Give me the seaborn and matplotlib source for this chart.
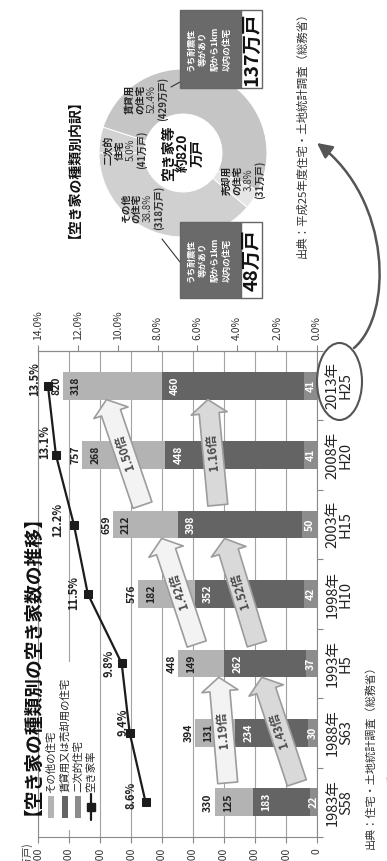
import numpy as np
import pandas as pd
import matplotlib
matplotlib.use("Agg")
import matplotlib.pyplot as plt
import seaborn as sns
from matplotlib.patches import Rectangle, Ellipse, FancyArrowPatch
from matplotlib.path import Path
from matplotlib.lines import Line2D

# ---- data ---------------------------------------------------------------
years = ["1983年", "1988年", "1993年", "1998年", "2003年", "2008年", "2013年"]
eras = ["S58", "S63", "H5", "H10", "H15", "H20", "H25"]
second_homes = [22, 30, 37, 42, 50, 41, 41]          # 二次的住宅
rental_sale = [183, 234, 262, 352, 398, 448, 460]     # 賃貸用又は売却用の住宅
other_homes = [125, 131, 149, 182, 212, 268, 318]     # その他の住宅
totals = [330, 394, 448, 576, 659, 757, 820]          # 空き家数 (万戸)
vacancy_rate = [8.6, 9.4, 9.8, 11.5, 12.2, 13.1, 13.5]  # 空き家率 (%)

value_ticks = [0, 100, 200, 300, 400, 500, 600, 700, 800, 900]
rate_ticks = [0, 2, 4, 6, 8, 10, 12, 14]

growth_labels = ["1.19倍", "1.43倍", "1.42倍", "1.52倍", "1.50倍", "1.16倍"]
growth_from = [0, 0, 2, 2, 4, 4]
growth_kind = ["other", "rental", "other", "rental", "other", "rental"]

pie_names = [["二次的", "住宅"], ["賃貸用", "の住宅"], ["売却用", "の住宅"], ["その他", "の住宅"]]
pie_pct = [5.0, 52.4, 3.8, 38.8]
pie_units = [41, 429, 31, 318]
pie_total = 820
near_station = [137, 48]

# ---- layout helpers (pixel positions on the 387x861 canvas) ---------------
W, H = 387, 861


def fxy(px, py):
    return px / W, 1 - py / H


def pt(px):
    return px * 72 / 100


C_OTHER = "#b3b3b3"
C_RENT = "#646464"
C_SECOND = "#8c8c8c"
C_LINE = "#1c1c1c"
C_GRID = "#a2a2a2"
C_TEXT = "#222222"

sns.set_style("white")
plt.rcParams["font.family"] = ["Noto Sans CJK JP", "DejaVu Sans"]

fig = plt.figure(figsize=(W / 100, H / 100), dpi=100)
fig.patch.set_facecolor("white")

# ---- stacked bars (drawn sideways: values run right -> left) --------------
ax = fig.add_axes([38 / W, 1 - 837 / H, 279 / W, 486 / H])
ax.set_axisbelow(True)
inner = [s + r for s, r in zip(second_homes, rental_sale)]
for vals, col in [(totals, C_OTHER), (inner, C_RENT), (second_homes, C_SECOND)]:
    sns.barplot(x=vals, y=years, order=years, orient="h", color=col,
                saturation=1, width=0.4, errorbar=None, edgecolor="none",
                linewidth=0, ax=ax)

ax.set_xlim(900, 0)
ax.set_ylim(-0.5, 6.5)
ax.set_xlabel("")
ax.set_ylabel("")
ax.set_xticks(value_ticks)
ax.set_xticklabels([str(v) for v in value_ticks], rotation=90)
ax.tick_params(axis="x", bottom=True, length=4, pad=4, labelsize=7.5,
               color="#888888", labelcolor="#333333", width=0.8)
ax.xaxis.grid(True, color=C_GRID, lw=0.8)
ax.yaxis.grid(False)

ax.yaxis.tick_right()
ax.set_yticks(range(len(years)))
ax.set_yticklabels([f"{y}\n{e}" for y, e in zip(years, eras)], rotation=90,
                   ha="left", va="center", multialignment="center",
                   linespacing=0.95)
ax.tick_params(axis="y", which="major", length=0, pad=6, labelsize=10.5,
               labelcolor="#222222")
ax.set_yticks(np.arange(-0.5, 7, 1), minor=True)
ax.tick_params(axis="y", which="minor", length=4, right=True, left=False,
               color="#888888", width=0.8)
for sp in ax.spines.values():
    sp.set_color("#8a8a8a")
    sp.set_linewidth(0.8)

# segment labels, placed just inside each segment's outer end
for i in range(len(years)):
    segs = [
        (second_homes[i], second_homes[i], "white"),
        (inner[i], rental_sale[i], "white"),
        (totals[i], other_homes[i], C_TEXT),
    ]
    for end, length, col in segs:
        ax.text(end - min(42, length / 2), i, str(length), rotation=90,
                ha="center", va="center", fontsize=7.5, fontweight="bold",
                color=col, zorder=5)
    ax.annotate(str(totals[i]), (totals[i], i), xytext=(pt(-6.5), 0),
                textcoords="offset points", rotation=90, ha="center",
                va="center", fontsize=7.5, fontweight="bold", color=C_TEXT,
                zorder=5)

# growth arrows between survey years
arrow_tail_val = [288, 65, 388, 194, 563, 320]
arrow_head_val = [317, 178, 501, 298, 679, 352]
for lab, a, kind, xv0, xv1 in zip(growth_labels, growth_from, growth_kind,
                                  arrow_tail_val, arrow_head_val):
    y0, y1 = a + 0.28, a + 1.8
    fc = "#f3f3f3" if kind == "other" else "#d9d9d9"
    arr = FancyArrowPatch((xv0, y0), (xv1, y1),
                          arrowstyle="simple,head_length=10,head_width=26,tail_width=14.4",
                          mutation_scale=1, shrinkA=0, shrinkB=0,
                          facecolor=fc, edgecolor="#9c9c9c", lw=1.2, zorder=4)
    ax.add_patch(arr)
    p0 = ax.transData.transform((xv0, y0))
    p1 = ax.transData.transform((xv1, y1))
    ang = np.degrees(np.arctan2(p1[1] - p0[1], p1[0] - p0[0]))
    ax.text((xv0 + xv1) / 2, (y0 + y1) / 2, lab, rotation=ang,
            rotation_mode="anchor", ha="center", va="center", fontsize=8.5,
            fontweight="bold", color="#4a4a4a", zorder=6)

# ---- vacancy rate on the twin axis -----------------------------------------
ax2 = ax.twiny()
sns.lineplot(x=vacancy_rate, y=list(range(len(years))), sort=False,
             estimator=None, ax=ax2, color=C_LINE, lw=1.6, marker="s",
             markersize=5.5, markeredgecolor=C_LINE, markerfacecolor=C_LINE)
ax2.set_xlim(14, 0)
ax.set_ylim(-0.5, 6.5)
ax2.set_xticks(rate_ticks)
ax2.set_xticklabels([f"{v:.1f}%" for v in rate_ticks], rotation=90)
ax2.tick_params(axis="x", top=True, length=4, pad=4, labelsize=7.5,
                color="#888888", labelcolor="#333333", width=0.8)
ax2.set_xlabel("")
ax2.set_ylabel("")
for name, sp in ax2.spines.items():
    sp.set_visible(name == "top")
    sp.set_color("#8a8a8a")
    sp.set_linewidth(0.8)

rate_offsets = [(-14.6, -7), (-7, -11), (-13, 0), (-14, -1), (-16, -5),
                (-11, -13), (-13, -7)]
for i, (r, (dx, dy)) in enumerate(zip(vacancy_rate, rate_offsets)):
    ax2.annotate(f"{r}%", (r, i), xytext=(pt(dx), pt(-dy)),
                 textcoords="offset points", rotation=90, ha="center",
                 va="center", fontsize=8, fontweight="bold", color=C_TEXT)

# ---- legend (sideways) -----------------------------------------------------
x0, y0 = fxy(40, 830)
x1, y1 = fxy(98, 662)
fig.add_artist(Rectangle((x0, y0), x1 - x0, y1 - y0, transform=fig.transFigure,
                         facecolor="white", edgecolor="none", zorder=1))
legend_items = [("その他の住宅", C_OTHER, 51), ("賃貸用又は売却用の住宅", C_RENT, 65),
                ("二次的住宅", C_SECOND, 78), ("空き家率", None, 91)]
for lab, col, cx in legend_items:
    if col is not None:
        bx, by = fxy(cx - 3, 818)
        fig.add_artist(Rectangle((bx, by), 6 / W, 22 / H, transform=fig.transFigure,
                                 facecolor=col, edgecolor="none", zorder=2))
    else:
        lx, ly0 = fxy(cx, 820)
        _, ly1 = fxy(cx, 794)
        fig.add_artist(Line2D([lx, lx], [ly0, ly1], transform=fig.transFigure,
                              color=C_LINE, lw=1.6, zorder=2))
        mx, my = fxy(cx, 807)
        fig.add_artist(Line2D([mx], [my], transform=fig.transFigure, marker="s",
                              markersize=5.5, color=C_LINE, zorder=3))
    tx, ty = fxy(cx, 792)
    fig.text(tx, ty, lab, rotation=90, ha="center", va="bottom", fontsize=7.5,
             color=C_TEXT, zorder=3)

# ---- titles and notes -------------------------------------------------------
tx, ty = fxy(23, 656)
fig.text(tx, ty, "【空き家の種類別の空き家数の推移】", rotation=90, ha="center",
         va="center", fontsize=13.5, fontweight="bold", color="#111111")
tx, ty = fxy(370, 754)
fig.text(tx, ty, "出典：住宅・土地統計調査（総務省）", rotation=90, ha="center",
         va="center", fontsize=8, color="#333333")
tx, ty = fxy(387, 786)
fig.text(tx, ty, "［空き家の種類］", rotation=90, ha="center", va="center",
         fontsize=6, color="#555555")
tx, ty = fxy(27, 842)
fig.text(tx, ty, "(万戸)", rotation=90, ha="center", va="top", fontsize=7.5,
         color="#333333")

# highlight of the latest survey year and link to the breakdown
ex, ey = fxy(339.5, 381.5)
fig.add_artist(Ellipse((ex, ey), 45 / W, 77 / H, transform=fig.transFigure,
                       fill=False, edgecolor="#555555", lw=1.5, zorder=4))
verts = [fxy(354, 348), fxy(393, 315), fxy(392, 200), fxy(317, 143)]
link = FancyArrowPatch(path=Path(verts, [Path.MOVETO, Path.CURVE4, Path.CURVE4, Path.CURVE4]),
                       arrowstyle="-|>,head_length=9,head_width=4.5", mutation_scale=1,
                       color="#555555", lw=1.8, transform=fig.transFigure, zorder=4)
fig.add_artist(link)

# ---- breakdown donut ---------------------------------------------------------
cx, cy, r_out, r_in = 183, 153, 84, 39
pax = fig.add_axes([(cx - r_out) / W, 1 - (cy + r_out) / H, 2 * r_out / W, 2 * r_out / H])
pax.pie(pie_pct, startangle=180, counterclock=False,
        colors=["#d2d2d2", "#c5c5c5", "#e6e6e6", "#d0d0d0"],
        wedgeprops=dict(width=1 - r_in / r_out, edgecolor="white", linewidth=0.7))
pax.set_xlim(-1, 1)
pax.set_ylim(-1, 1)
pax.set_aspect("equal")
pax.axis("off")

tx, ty = fxy(68, 162)
fig.text(tx, ty, "【空き家の種類別内訳】", rotation=90, ha="center", va="center",
         fontsize=10, fontweight="bold", color="#111111")


def stacked_lines(lines, xc, yc, gap):
    """Draw sideways lines of text, first line leftmost."""
    n = len(lines)
    for k, (s, w, fs, col) in enumerate(lines):
        px = xc + (k - (n - 1) / 2) * gap
        fx, fy = fxy(px, yc)
        fig.text(fx, fy, s, rotation=90, ha="center", va="center", fontsize=fs,
                 fontweight=w, color=col)


label_centres = [(125, 150), (146, 99), (243, 180), (142, 208)]
for names, pct, units, (lx, ly) in zip(pie_names, pie_pct, pie_units, label_centres):
    stacked_lines([(names[0], "bold", 7, C_TEXT), (names[1], "bold", 7, C_TEXT),
                   (f"{pct}%", "normal", 7, "#333333"),
                   (f"({units}万戸)", "bold", 7, "#333333")], lx, ly, 11)

stacked_lines([("空き家等", "bold", 10, "#111111"),
               (f"約{pie_total}", "bold", 10, "#111111"),
               ("万戸", "bold", 10, "#111111")], 183, 153, 14)

tx, ty = fxy(302, 132)
fig.text(tx, ty, "出典：平成25年度住宅・土地統計調査（総務省）", rotation=90,
         ha="center", va="center", fontsize=8.2, color="#333333")

# callout boxes: homes near a station with earthquake resistance
for (y_top, y_bot, n), (l0, l1) in zip([(10, 88, near_station[0]), (222, 298, near_station[1])],
                                       [((171, 87), (180, 82)), ((162, 239), (180, 262))]):
    bx, by = fxy(180, y_bot)
    fig.add_artist(Rectangle((bx, by), 61 / W, (y_bot - y_top) / H,
                             transform=fig.transFigure, facecolor="#6a6a6a",
                             edgecolor="#666666", lw=1, zorder=3))
    bx, by = fxy(241, y_bot)
    fig.add_artist(Rectangle((bx, by), 21 / W, (y_bot - y_top) / H,
                             transform=fig.transFigure, facecolor="white",
                             edgecolor="#666666", lw=1, zorder=3))
    yc = (y_top + y_bot) / 2
    stacked_lines([("うち耐震性", "bold", 6.2, "white"), ("等があり", "bold", 6.2, "white"),
                   ("駅から1km", "bold", 6.2, "white"), ("以内の住宅", "bold", 6.2, "white")],
                  209.5, yc, 12)
    fx, fy = fxy(252, yc)
    fig.text(fx, fy, f"{n}万戸", rotation=90, ha="center", va="center",
             fontsize=14, fontweight="bold", color="#111111", zorder=5)
    a0 = fxy(*l0)
    a1 = fxy(*l1)
    fig.add_artist(Line2D([a0[0], a1[0]], [a0[1], a1[1]], transform=fig.transFigure,
                          color="#333333", lw=0.8))

fig.savefig("out.png", dpi=100, facecolor="white")
